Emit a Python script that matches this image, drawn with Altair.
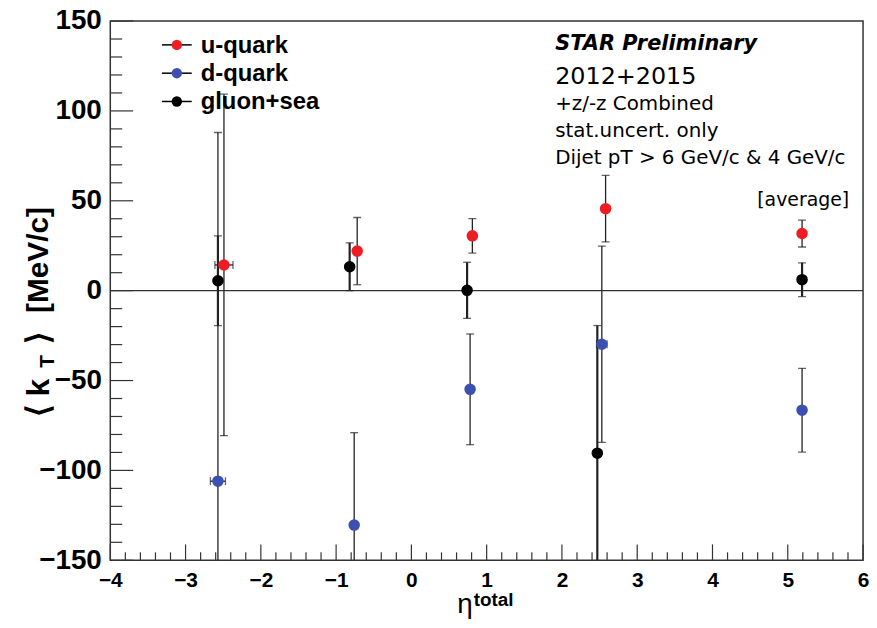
import altair as alt
import pandas as pd

# ---------------- data ----------------
series = ["u-quark", "d-quark", "gluon+sea"]
colors = ["#ee1d24", "#3b50b1", "#000000"]

u_eta = [-2.49, -0.72, 0.81, 2.58, 5.19]
u_kt = [14.3, 22.0, 30.5, 45.6, 31.8]
u_err = [95.0, 18.7, 9.6, 18.5, 7.5]
u_xerr = [0.12, 0.0, 0.0, 0.0, 0.0]

d_eta = [-2.57, -0.76, 0.78, 2.53, 5.19]
d_kt = [-106.0, -130.4, -54.9, -29.8, -66.5]
d_err = [194.0, 51.4, 30.8, 54.6, 23.3]
d_xerr = [0.10, 0.0, 0.0, 0.07, 0.0]

g_eta = [-2.57, -0.82, 0.74, 2.47, 5.19]
g_kt = [5.5, 13.3, 0.2, -90.4, 6.1]
g_err = [25.0, 13.3, 15.6, 71.0, 9.4]
g_xerr = [0.0, 0.0, 0.0, 0.0, 0.0]

x_labels = [-4, -3, -2, -1, 0, 1, 2, 3, 4, 5, 6]
y_labels = [-150, -100, -50, 0, 50, 100, 150]
x_minor = [round(-4 + 0.2 * i, 1) for i in range(51)]
y_minor = [-150 + 10 * i for i in range(31)]

notes = ["+z/-z Combined", "stat.uncert. only", "Dijet pT > 6 GeV/c & 4 GeV/c"]

# ---------------- build table ----------------
rows = []
for name, xs_, ys_, es_, xe_ in zip(
    series,
    [u_eta, d_eta, g_eta],
    [u_kt, d_kt, g_kt],
    [u_err, d_err, g_err],
    [u_xerr, d_xerr, g_xerr],
):
    for x, y, e, xe in zip(xs_, ys_, es_, xe_):
        rows.append(dict(series=name, eta=x, kt=y, lo=y - e, hi=y + e,
                         xlo=x - xe, xhi=x + xe, xe=xe))
df = pd.DataFrame(rows)

W, H = 758, 543
FONT = "Liberation Sans"
NOTE_FONT = "DejaVu Sans"
xsc = alt.Scale(domain=[-4, 6], nice=False, zero=False)
ysc = alt.Scale(domain=[-150, 150], nice=False, zero=False)
xaxis = alt.Axis(values=x_labels, ticks=False, domain=False, grid=False, title="",
                 labelFont=FONT, labelFontWeight="bold", labelFontSize=21,
                 labelPadding=9, labelColor="#000", labelFlush=False, labelOverlap=False)
yaxis = alt.Axis(values=y_labels, ticks=False, domain=False, grid=False, title="",
                 labelFont=FONT, labelFontWeight="bold", labelFontSize=28,
                 labelPadding=9, labelColor="#000", labelFlush=False, labelOverlap=False)
cscale = alt.Scale(domain=series, range=colors)

layers = []

# inward ticks (ROOT style)
xt = pd.DataFrame({"v": x_minor, "major": [abs(v - round(v)) < 1e-6 for v in x_minor]})
yt = pd.DataFrame({"v": y_minor, "major": [v % 50 == 0 for v in y_minor]})
layers.append(alt.Chart(xt[xt.major]).mark_rule(color="#333", strokeWidth=1.2).encode(
    x=alt.X("v:Q", scale=xsc, axis=xaxis), y=alt.value(H), y2=alt.value(H - 16)))
layers.append(alt.Chart(xt[~xt.major]).mark_rule(color="#333", strokeWidth=1.2).encode(
    x=alt.X("v:Q", scale=xsc, axis=xaxis), y=alt.value(H), y2=alt.value(H - 8)))
layers.append(alt.Chart(yt[yt.major]).mark_rule(color="#333", strokeWidth=1.2).encode(
    y=alt.Y("v:Q", scale=ysc, axis=yaxis), x=alt.value(0), x2=alt.value(23)))
layers.append(alt.Chart(yt[~yt.major]).mark_rule(color="#333", strokeWidth=1.2).encode(
    y=alt.Y("v:Q", scale=ysc, axis=yaxis), x=alt.value(0), x2=alt.value(12)))

# zero line
layers.append(alt.Chart(pd.DataFrame({"v": [0]})).mark_rule(color="#333", strokeWidth=1.2).encode(
    y=alt.Y("v:Q", scale=ysc, axis=yaxis)))

# error bars
thin = df[df.series != "gluon+sea"]
thick = df[df.series == "gluon+sea"]
for part, sw in [(thin, 1.3), (thick, 2.2)]:
    b = alt.Chart(part)
    layers.append(b.mark_rule(color="#222", strokeWidth=sw, clip=True).encode(
        x=alt.X("eta:Q", scale=xsc, axis=xaxis),
        y=alt.Y("lo:Q", scale=ysc, axis=yaxis), y2="hi:Q"))
    for f in ["lo", "hi"]:
        layers.append(b.mark_tick(color="#222", orient="horizontal", size=8,
                                  thickness=1.3, clip=True).encode(
            x=alt.X("eta:Q", scale=xsc, axis=xaxis),
            y=alt.Y(f + ":Q", scale=ysc, axis=yaxis)))

xe_df = df[df.xe > 0]
layers.append(alt.Chart(xe_df).mark_rule(color="#222", strokeWidth=1.3).encode(
    x=alt.X("xlo:Q", scale=xsc, axis=xaxis), x2="xhi:Q",
    y=alt.Y("kt:Q", scale=ysc, axis=yaxis)))
for f in ["xlo", "xhi"]:
    layers.append(alt.Chart(xe_df).mark_tick(color="#222", orient="vertical", size=8,
                                             thickness=1.3).encode(
        x=alt.X(f + ":Q", scale=xsc, axis=xaxis),
        y=alt.Y("kt:Q", scale=ysc, axis=yaxis)))

# points
layers.append(alt.Chart(df).mark_point(filled=True, shape="circle", size=135, opacity=1).encode(
    x=alt.X("eta:Q", scale=xsc, axis=xaxis),
    y=alt.Y("kt:Q", scale=ysc, axis=yaxis),
    color=alt.Color("series:N", scale=cscale, legend=None)))

# legend (drawn)
for i, (name, col) in enumerate(zip(series, colors)):
    ly = 24 + 28.5 * i
    one = alt.Chart(pd.DataFrame({"t": [name]}))
    layers.append(one.mark_rule(color="#000", strokeWidth=1.5).encode(
        x=alt.value(52), x2=alt.value(82), y=alt.value(ly)))
    layers.append(one.mark_point(filled=True, shape="circle", size=110, opacity=1, color=col).encode(
        x=alt.value(67), y=alt.value(ly)))
    layers.append(one.mark_text(align="left", baseline="middle", font=FONT, fontWeight="bold",
                                fontSize=24, color="#000").encode(
        text="t:N", x=alt.value(91), y=alt.value(ly + 1)))

# annotations
def txt(t, x, y, size, font=NOTE_FONT, weight="normal", style="normal", align="left",
        baseline="alphabetic", angle=0):
    kw = dict(align=align, baseline=baseline, font=font, fontWeight=weight, fontStyle=style,
              fontSize=size, color="#000")
    if angle:
        kw["angle"] = angle
    return alt.Chart(pd.DataFrame({"t": [t]})).mark_text(**kw).encode(
        text="t:N", x=alt.value(x), y=alt.value(y))

layers.append(txt("STAR Preliminary", 448, 29, 21, style="italic", weight="bold"))
layers.append(txt("2012+2015", 448, 63, 24))
for j, n in enumerate(notes):
    layers.append(txt(n, 448, 90 + 27 * j, 20))
layers.append(txt("[average]", 744, 186, 19, align="right"))

# axis titles (with super/subscripts)
layers.append(txt("η", 365, 596, 28, font=FONT, align="right"))
layers.append(txt("total", 366, 589, 19, font=FONT, weight="bold"))
layers.append(txt("[MeV/c]", -72, 294, 30, font=FONT, weight="bold", align="left",
                  baseline="middle", angle=270))
layers.append(txt("⟩", -72, 325, 32, font=FONT, weight="bold", align="left",
                  baseline="middle", angle=270))
layers.append(txt("T", -63, 349, 21, font=FONT, weight="bold", align="left",
                  baseline="middle", angle=270))
layers.append(txt("k", -72, 378, 32, font=FONT, weight="bold", align="left",
                  baseline="middle", angle=270))
layers.append(txt("⟨", -72, 399, 32, font=FONT, weight="bold", align="left",
                  baseline="middle", angle=270))

chart = alt.layer(*layers).properties(
    width=W, height=H,
    padding={"left": 103, "top": 11, "right": 6, "bottom": 58},
    autosize=alt.AutoSizeParams(type="none"),
    background="white",
).configure_view(stroke="#333", strokeWidth=1.5)

chart.save("out.html", embed_options={"renderer": "svg", "actions": False})
